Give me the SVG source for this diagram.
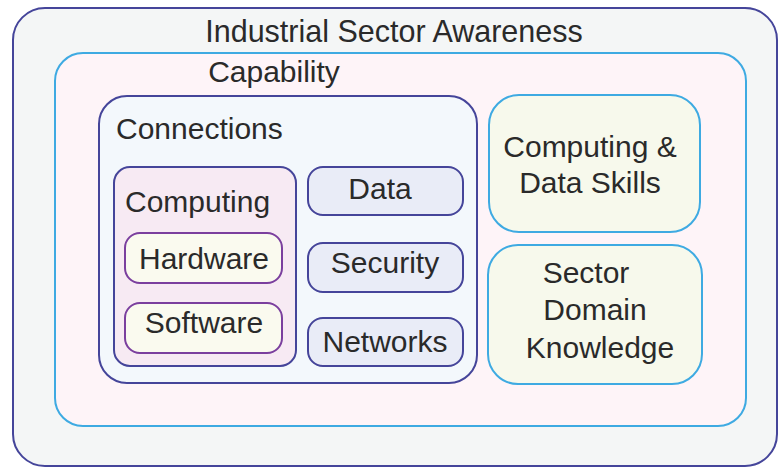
<svg xmlns="http://www.w3.org/2000/svg" width="780" height="468" viewBox="0 0 780 468">
<style>
text{font-family:"Liberation Sans",Arial,sans-serif;font-size:30px;fill:#2a2a2a}
.m{text-anchor:middle}
.dark{stroke:#45459a;stroke-width:2}
.blue{stroke:#3eaae2;stroke-width:2}
.purp{stroke:#7b3f9e;stroke-width:2}
</style>
<rect width="780" height="468" fill="#ffffff"/>
<g id="industrial">
<rect x="13" y="8" width="764" height="458" rx="32" fill="#f4f6f6" class="dark"/>
<text x="394" y="42" class="m" style="font-size:30.5px">Industrial Sector Awareness</text>
</g>
<g id="capability">
<rect x="55" y="53" width="691" height="373" rx="28" fill="#fef4f8" class="blue"/>
<text x="274" y="82" class="m">Capability</text>
</g>
<g id="connections">
<rect x="99" y="96" width="378" height="287" rx="28" fill="#f3f8fc" class="dark"/>
<text x="116" y="139">Connections</text>
</g>
<g id="computing">
<rect x="114" y="167" width="182" height="199" rx="16" fill="#f7eaf3" class="dark"/>
<text x="125" y="212">Computing</text>
</g>
<g id="hardware">
<rect x="125" y="233" width="157" height="50" rx="15" fill="#fafaef" class="purp"/>
<text x="204" y="269" class="m">Hardware</text>
</g>
<g id="software">
<rect x="125" y="303" width="157" height="50" rx="15" fill="#fafaef" class="purp"/>
<text x="204" y="333" class="m">Software</text>
</g>
<g id="data">
<rect x="308" y="167" width="155" height="48" rx="15" fill="#e9ecf7" class="dark"/>
<text x="380" y="199" class="m">Data</text>
</g>
<g id="security">
<rect x="308" y="243" width="155" height="49" rx="15" fill="#e9ecf7" class="dark"/>
<text x="385" y="273" class="m">Security</text>
</g>
<g id="networks">
<rect x="308" y="318" width="155" height="48" rx="15" fill="#e9ecf7" class="dark"/>
<text x="385" y="352" class="m">Networks</text>
</g>
<g id="skills">
<rect x="489" y="95" width="211" height="137" rx="30" fill="#f7f9ec" class="blue"/>
<text x="590" y="157" class="m">Computing &amp;</text>
<text x="590" y="193" class="m">Data Skills</text>
</g>
<g id="domain">
<rect x="488" y="245" width="214" height="139" rx="30" fill="#f7f9ec" class="blue"/>
<text x="586" y="283" class="m">Sector</text>
<text x="595" y="320" class="m">Domain</text>
<text x="600" y="358" class="m">Knowledge</text>
</g>
<g id="connectors"></g>
</svg>
